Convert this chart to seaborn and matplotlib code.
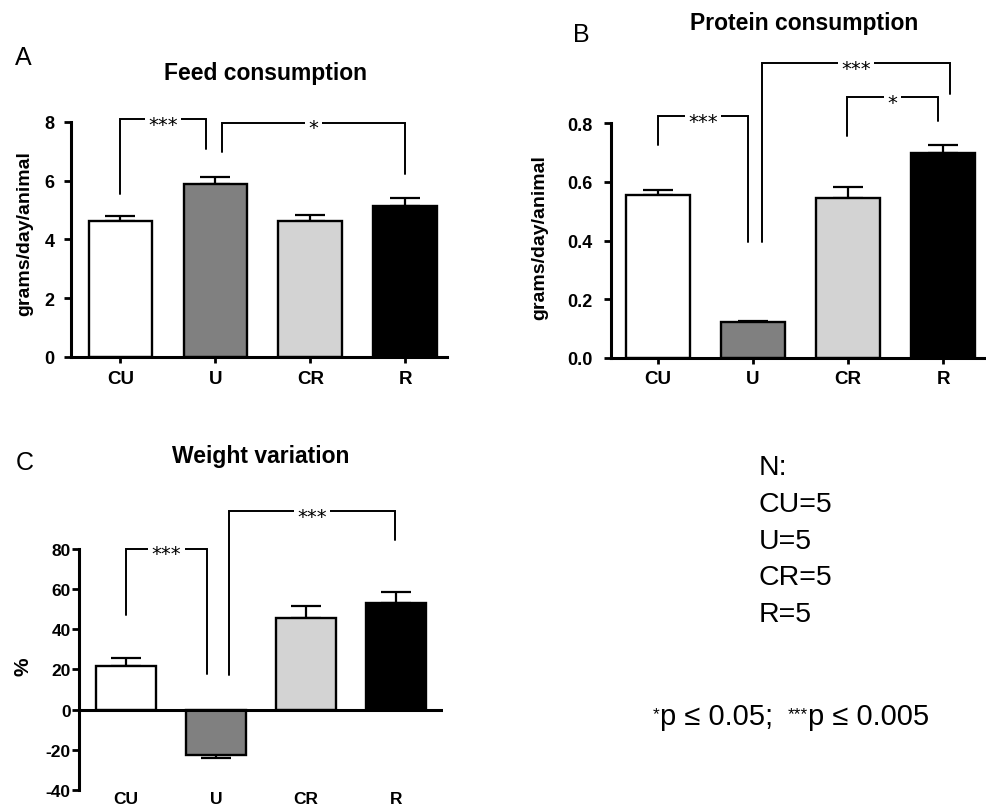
import numpy as np
import pandas as pd
import matplotlib
matplotlib.use('Agg')
import matplotlib.pyplot as plt
import seaborn as sns

groups = ['CU', 'U', 'CR', 'R']
bar_colors = ['white', '#808080', '#d3d3d3', 'black']

feed_mean = [4.63, 5.88, 4.62, 5.14]
feed_sem = [0.17, 0.24, 0.22, 0.26]
protein_mean = [0.555, 0.123, 0.545, 0.698]
protein_sem = [0.017, 0.004, 0.037, 0.027]
weight_mean = [21.9, -22.4, 45.8, 53.2]
weight_sem = [4.0, 1.6, 5.9, 5.5]

n_text = ['N:', 'CU=5', 'U=5', 'CR=5', 'R=5']

# significance brackets: x left, x right, top, left leg end, right leg end, label
feed_brackets = [(0, 0.90, 8.08, 5.55, 7.07, '***'),
                 (1.07, 3.0, 7.97, 6.97, 6.22, '*')]
protein_brackets = [(0, 0.95, 0.823, 0.725, 0.396, '***'),
                    (1.10, 3.07, 1.003, 0.396, 0.899, '***'),
                    (1.99, 2.95, 0.887, 0.757, 0.808, '*')]
weight_brackets = [(0, 0.90, 80.1, 46.9, 17.9, '***'),
                   (1.14, 2.99, 98.7, 17.1, 84.2, '***')]

W, H = 986, 812
sns.set_style('ticks')
plt.rcParams['font.family'] = ['Liberation Sans', 'DejaVu Sans']
plt.rcParams['font.weight'] = 'bold'
plt.rcParams['text.color'] = 'black'
plt.rcParams['xtick.color'] = 'black'
plt.rcParams['ytick.color'] = 'black'
plt.rcParams['axes.edgecolor'] = 'black'
plt.rcParams['axes.unicode_minus'] = False

fig = plt.figure(figsize=(W / 100, H / 100), dpi=100)


def px_axes(l, r, b, t):
    return fig.add_axes([l / W, 1 - b / H, (r - l) / W, (b - t) / H])


def ftext(x, y, s, **kw):
    return fig.text(x / W, 1 - y / H, s, **kw)


def panel(ax, means, sems, brackets, xlim, ylim, yticks, ytick_pad, tick_size, zero_line=False):
    df = pd.DataFrame({'group': groups, 'value': means})
    sns.barplot(data=df, x='group', y='value', hue='group', palette=bar_colors,
                legend=False, width=0.67, edgecolor='black', linewidth=1.7,
                errorbar=None, ax=ax, zorder=2)
    means = np.array(means)
    sems = np.array(sems)
    lo = np.where(means < 0, sems, 0)
    hi = np.where(means >= 0, sems, 0)
    ax.errorbar(np.arange(4), means, yerr=[lo, hi], fmt='none', ecolor='black',
                elinewidth=1.6, capsize=11, capthick=1.6, zorder=1)
    for x1, x2, top, e1, e2, lab in brackets:
        ax.plot([x1, x1, x2, x2], [e1, top, top, e2], color='black', lw=1.4,
                solid_joinstyle='miter', zorder=3, clip_on=False)
        ax.annotate(lab, xy=((x1 + x2) / 2, top), xytext=(0, -7.5),
                    textcoords='offset points', ha='center', va='baseline',
                    fontsize=14, fontweight='normal', family='DejaVu Sans',
                    bbox=dict(facecolor='white', edgecolor='none', pad=2.5),
                    zorder=4, annotation_clip=False)
    ax.set_xlim(*xlim)
    ax.set_ylim(*ylim)
    ax.set_yticks(yticks)
    ax.set_xlabel('')
    ax.set_ylabel('')
    sns.despine(ax=ax)
    ax.spines['left'].set_bounds(yticks[0], yticks[-1])
    ax.spines['left'].set_linewidth(2.2)
    ax.spines['bottom'].set_linewidth(2.2)
    ax.tick_params(axis='y', length=5, width=2, pad=ytick_pad, labelsize=tick_size)
    if zero_line:
        ax.spines['bottom'].set_visible(False)
        ax.axhline(0, color='black', lw=2.2, zorder=3)
        ax.tick_params(axis='x', length=0, pad=1, labelsize=tick_size)
    else:
        ax.tick_params(axis='x', length=4, width=2, pad=5, labelsize=13.5)
    ax.set_facecolor('white')


axA = px_axes(71, 447, 358, 111)
panel(axA, feed_mean, feed_sem, feed_brackets, (-0.52, 3.44), (0, 8.4),
      [0, 2, 4, 6, 8], 7, 13)

axB = px_axes(611, 986, 359, 50.6)
panel(axB, protein_mean, protein_sem, protein_brackets, (-0.49, 3.45), (0, 1.05),
      [0.0, 0.2, 0.4, 0.6, 0.8], 8, 13)
axB.set_yticklabels(['0.0', '0.2', '0.4', '0.6', '0.8'])

axC = px_axes(79, 443, 791, 509.6)
panel(axC, weight_mean, weight_sem, weight_brackets, (-0.52, 3.52), (-40, 100),
      [-40, -20, 0, 20, 40, 60, 80], 1, 12.5, zero_line=True)

# titles
ftext(265, 80, 'Feed consumption', ha='center', va='baseline', fontsize=16.5)
ftext(804, 30, 'Protein consumption', ha='center', va='baseline', fontsize=16.5)
ftext(261, 463, 'Weight variation', ha='center', va='baseline', fontsize=16.5)

# panel letters
ftext(15, 65, 'A', fontsize=18, fontweight='normal', va='baseline')
ftext(573, 42, 'B', fontsize=18, fontweight='normal', va='baseline')
ftext(16, 470, 'C', fontsize=18, fontweight='normal', va='baseline')

# y labels
ftext(25, 234, 'grams/day/animal', rotation=90, ha='center', va='center', fontsize=14)
ftext(540, 238, 'grams/day/animal', rotation=90, ha='center', va='center', fontsize=14)
ftext(23, 667, '%', rotation=90, ha='center', va='center', fontsize=15)

# group sizes
for i, s in enumerate(n_text):
    ftext(759, 475 + i * 36.8, s, fontsize=20.5, fontweight='normal', va='baseline')

# p-value legend with superscript stars
fig.canvas.draw()
renderer = fig.canvas.get_renderer()
pieces = [('*', True), ('p ≤ 0.05;', False), (None, False), ('***', True), ('p ≤ 0.005', False)]
x = 653
for s, sup in pieces:
    if s is None:
        x += 15
        continue
    t = ftext(x, 725 - (6 if sup else 0), s, fontsize=12.5 if sup else 21,
              fontweight='normal', ha='left', va='baseline')
    x += t.get_window_extent(renderer=renderer).width

fig.savefig('out.png', dpi=100, facecolor='white')
